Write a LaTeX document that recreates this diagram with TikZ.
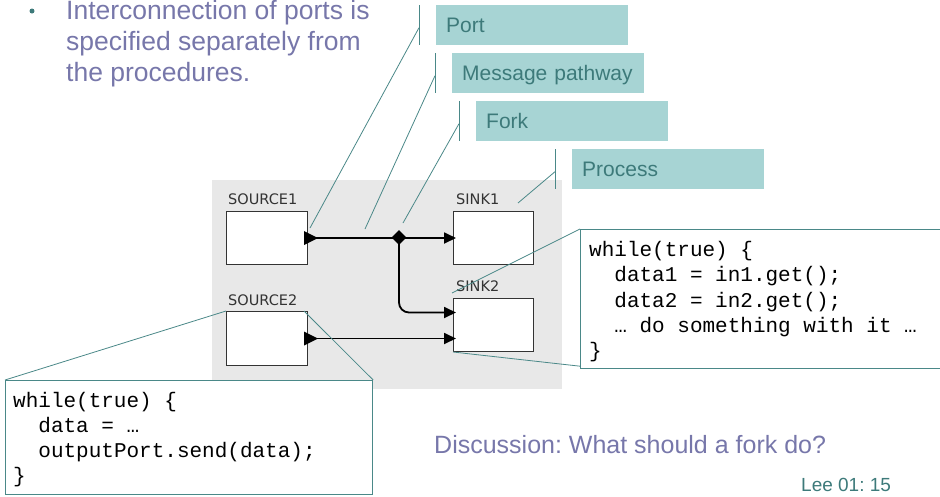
\documentclass[tikz,border=0pt]{standalone}
\usepackage{fontspec}
\setmainfont{Liberation Sans}
\newfontfamily\codefont{Liberation Mono}
\newfontfamily\lblfont{DejaVu Sans}
\usetikzlibrary{arrows.meta,shapes.geometric,calc}
\definecolor{bultxt}{HTML}{7777AA}
\definecolor{tealfill}{HTML}{A7D4D4}
\definecolor{tealtxt}{HTML}{3D7A7A}
\definecolor{tealline}{HTML}{4A8888}
\definecolor{bggray}{HTML}{E8E8E8}
\frenchspacing
\begin{document}
\begin{tikzpicture}[x=1pt,y=-1pt,
  bullettxt/.style={anchor=base west, inner sep=0, text=bultxt, font=\fontsize{26.5}{31}\selectfont},
  tagbox/.style={fill=tealfill, anchor=north west, minimum width=192pt, minimum height=40pt,
     text width=172pt, inner xsep=10pt, inner ysep=0pt, align=left, text height=17pt, text depth=3pt,
     text=tealtxt, font=\fontsize{21}{25}\selectfont},
  leader/.style={draw=tealline, line width=0.8pt},
  procbox/.style={draw=black!80, fill=white, line width=1pt, minimum width=81pt, minimum height=53pt, inner sep=0, anchor=north west},
  proclbl/.style={anchor=base west, inner sep=0, text=black!80, font=\lblfont\fontsize{14.5}{17}\selectfont},
  codebox/.style={draw=tealline, fill=white, line width=1.2pt, inner sep=0, anchor=north west},
  codetxt/.style={anchor=base west, inner sep=0, font=\codefont\fontsize{21}{25}\selectfont},
  flow/.style={draw=black, line width=1.8pt, -{Triangle[length=12pt,width=11pt]}, shorten >=-3pt},
]
\useasboundingbox (0,0) rectangle (940,496);

% bullet text
\node[circle, fill=tealtxt, minimum size=5pt, inner sep=0] (bul) at (32,11) {};
\node[bullettxt] (b1) at (66,19) {Interconnection of ports is};
\node[bullettxt] (b2) at (66,50) {specified separately from};
\node[bullettxt] (b3) at (66,81) {the procedures.};

% diagram background
\fill[bggray] (212,180) rectangle (562,389);

% tag boxes
\node[tagbox] (tPort) at (436,5) {Port};
\node[tagbox] (tPath) at (452,53) {Message pathway};
\node[tagbox] (tFork) at (476,101) {Fork};
\node[tagbox] (tProc) at (572,149) {Process};

% actor boxes
\node[procbox] (src1) at (226,211) {};
\node[procbox, minimum height=54pt] (src2) at (226,311) {};
\node[procbox, minimum width=80pt] (snk1) at (453,211) {};
\node[procbox, minimum width=80pt] (snk2) at (453,298) {};
\node[proclbl] (lsrc1) at (228,204) {SOURCE1};
\node[proclbl] (lsrc2) at (228,305) {SOURCE2};
\node[proclbl] (lsnk1) at (456,204) {SINK1};
\node[proclbl] (lsnk2) at (456,291) {SINK2};

% connections
\draw[flow] (src1.east) -- (snk1.west);
\draw[flow, rounded corners=10pt] (399,237.5) |- ($(snk2.west)+(0,-12.5)$);
\draw[flow] (src2.east) -- (src2.east -| snk2.west);
\node[diamond, fill=black, inner sep=0, minimum width=15pt, minimum height=15pt] (fork) at (399,237.5) {};
\fill (src1.east) ++(-4,-7) -- ++(14,7) -- ++(-14,7) -- cycle;
\fill (src2.east) ++(-4,-7) -- ++(14,7) -- ++(-14,7) -- cycle;

% leader lines for tags
\foreach \t in {tPort,tPath,tFork,tProc}{
  \draw[leader] ($(\t.north west)+(-17,0)$) -- ($(\t.south west)+(-17,0)$);
  \coordinate (\t-l) at ($(\t.west)+(-17,2.5)$);
}
\coordinate (portTip) at (310,228);
\coordinate (pathPt) at (365,229);
\coordinate (forkPt) at ($(fork.center)+(4,-14.5)$);
\coordinate (procPt) at (518,203);
\draw[leader] (tPort-l) -- (portTip);
\draw[leader] (tPath-l) -- (pathPt);
\draw[leader] (tFork-l) -- (forkPt);
\draw[leader] (tProc-l) -- (procPt);

% code boxes
\node[codebox, minimum width=365pt, minimum height=139pt] (codeR) at (580,229) {};
\node[codebox, minimum width=367pt, minimum height=114pt] (codeL) at (5,380) {};
\draw[leader] (codeR.north west) -- ($(snk2.north west)+(-1,-5)$);
\draw[leader] ($(codeR.south west)+(0,-3)$) -- (snk2.south west);
\draw[leader] (codeL.north west) -- (src2.north west);
\draw[leader] (codeL.north east) -- ($(src2.north east)+(-4,0)$);

\node[codetxt] (r1) at (589,256) {while(true) \{};
\node[codetxt] (r2) at (589,281.5) {\ \ data1 = in1.get();};
\node[codetxt] (r3) at (589,307) {\ \ data2 = in2.get();};
\node[codetxt] (r4) at (589,332) {\ \ … do something with it …};
\node[codetxt] (r5) at (589,357) {\}};

\node[codetxt] (l1) at (13,407) {while(true) \{};
\node[codetxt] (l2) at (13,432) {\ \ data = …};
\node[codetxt] (l3) at (13,457) {\ \ outputPort.send(data);};
\node[codetxt] (l4) at (13,482) {\}};

% footer texts
\node[anchor=base west, inner sep=0, text=bultxt, font=\fontsize{25}{30}\selectfont] (disc) at (434,453) {Discussion: What should a fork do?};
\node[anchor=base west, inner sep=0, text=tealtxt, font=\fontsize{19}{23}\selectfont] (lee) at (801,491) {Lee 01: 15};
\end{tikzpicture}
\end{document}
